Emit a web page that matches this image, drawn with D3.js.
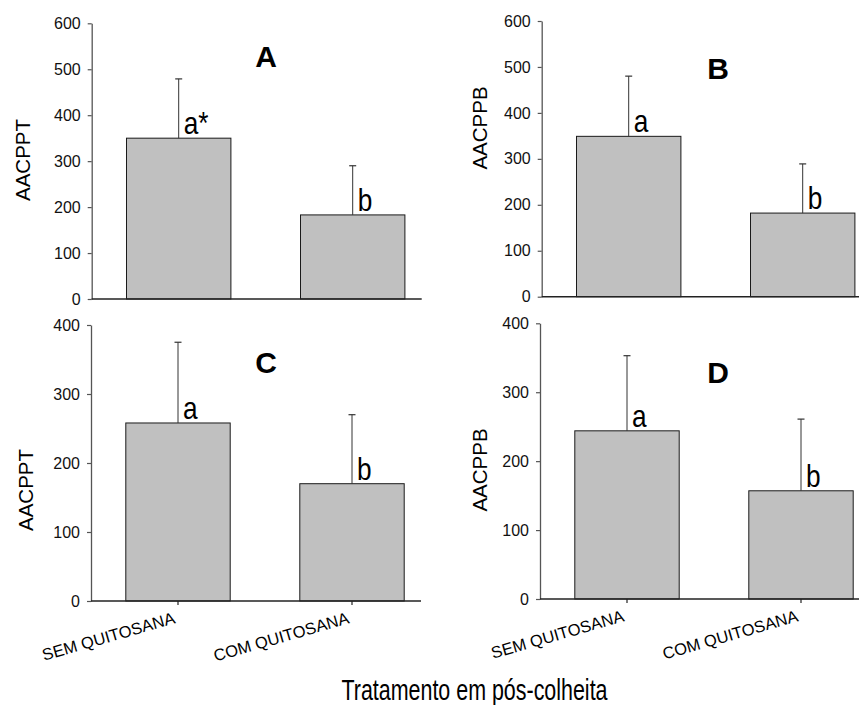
<!DOCTYPE html>
<html>
<head>
<meta charset="utf-8">
<script src="https://cdn.jsdelivr.net/npm/d3@7"></script>
<style>
  html, body { margin: 0; padding: 0; background: #fff; }
  svg { display: block; font-family: Arial, "Liberation Sans", Helvetica, sans-serif; }
</style>
</head>
<body>
<svg id="chart" width="859" height="705"></svg>
<script>
// Treatments on the x axis
const categories = ["SEM QUITOSANA", "COM QUITOSANA"];

// Panel identifiers and y-axis titles
const panelLetters = ["A", "B", "C", "D"];
const yTitles = ["AACPPT", "AACPPB", "AACPPT", "AACPPB"];

// Means and error-bar half lengths per panel
const meansA = [350, 183];
const errorsA = [129, 107];
const meansB = [349, 182];
const errorsB = [131, 107];
const meansC = [258, 170];
const errorsC = [117, 100];
const meansD = [244, 157];
const errorsD = [109, 104];

// Significance letters above the bars
const groupsA = ["a*", "b"];
const groupsB = ["a", "b"];
const groupsC = ["a", "b"];
const groupsD = ["a", "b"];

// Y tick values (top row goes to 600, bottom row to 400)
const ticksTop = [0, 100, 200, 300, 400, 500, 600];
const ticksBottom = [0, 100, 200, 300, 400];

const xTitle = "Tratamento em pós-colheita";

const panels = [
  { letter: panelLetters[0], yTitle: yTitles[0], means: meansA, errors: errorsA, groups: groupsA, ticks: ticksTop,
    x0: 91.7, top: 23.3, bottom: 299, axisEnd: 421.7, showX: false,
    letterPos: [266, 67], titlePos: [30, 160] },
  { letter: panelLetters[1], yTitle: yTitles[1], means: meansB, errors: errorsB, groups: groupsB, ticks: ticksTop,
    x0: 541.7, top: 21, bottom: 296.7, axisEnd: 870, showX: false,
    letterPos: [718, 79], titlePos: [487, 128] },
  { letter: panelLetters[2], yTitle: yTitles[2], means: meansC, errors: errorsC, groups: groupsC, ticks: ticksBottom,
    x0: 91, top: 325, bottom: 601, axisEnd: 421, showX: true,
    letterPos: [266, 373], titlePos: [33, 490] },
  { letter: panelLetters[3], yTitle: yTitles[3], means: meansD, errors: errorsD, groups: groupsD, ticks: ticksBottom,
    x0: 540, top: 323.3, bottom: 599, axisEnd: 870, showX: true,
    letterPos: [718, 383], titlePos: [487, 470] }
];

const svg = d3.select("#chart");

panels.forEach(p => {
  const g = svg.append("g");
  const maxTick = d3.max(p.ticks);

  const x = d3.scaleBand()
    .domain(categories)
    .range([p.x0, p.x0 + 348])
    .paddingInner(0.4)
    .paddingOuter(0.2);

  const y = d3.scaleLinear()
    .domain([0, maxTick])
    .range([p.bottom, p.top]);

  // Y axis
  const yAxis = g.append("g")
    .attr("transform", `translate(${p.x0},0)`)
    .call(d3.axisLeft(y).tickValues(p.ticks).tickSize(4).tickPadding(7).tickSizeOuter(0));
  yAxis.select(".domain").attr("stroke", "#555").attr("stroke-width", 1.3);
  yAxis.selectAll(".tick line").attr("stroke", "#555").attr("stroke-width", 1.2);
  yAxis.selectAll(".tick text")
    .attr("font-size", 16)
    .attr("fill", "#111")
    .style("font-family", "Arial, 'Liberation Sans', sans-serif");

  // Bars
  g.selectAll("rect.bar")
    .data(categories)
    .join("rect")
    .attr("class", "bar")
    .attr("x", d => x(d))
    .attr("width", x.bandwidth())
    .attr("y", (d, i) => y(p.means[i]))
    .attr("height", (d, i) => y(0) - y(p.means[i]))
    .attr("fill", "#c0c0c0")
    .attr("stroke", "#1a1a1a")
    .attr("stroke-width", 1);

  // Error bars (upper only)
  categories.forEach((c, i) => {
    const cx = x(c) + x.bandwidth() / 2;
    const yTopErr = y(p.means[i] + p.errors[i]);
    g.append("line")
      .attr("x1", cx).attr("x2", cx)
      .attr("y1", y(p.means[i])).attr("y2", yTopErr)
      .attr("stroke", "#333").attr("stroke-width", 1);
    g.append("line")
      .attr("x1", cx - 3.5).attr("x2", cx + 3.5)
      .attr("y1", yTopErr).attr("y2", yTopErr)
      .attr("stroke", "#333").attr("stroke-width", 1.2);

    // Group letter
    const lx = cx + 5;
    const ly = y(p.means[i]) - 4;
    g.append("text")
      .attr("transform", `translate(${lx},${ly}) scale(0.82,1)`)
      .attr("font-size", 32)
      .attr("fill", "#000")
      .text(p.groups[i]);
  });

  // X axis line
  g.append("line")
    .attr("x1", p.x0).attr("x2", p.axisEnd)
    .attr("y1", y(0)).attr("y2", y(0))
    .attr("stroke", "#222").attr("stroke-width", 1.4);

  if (p.showX) {
    categories.forEach(c => {
      const cx = x(c) + x.bandwidth() / 2;
      g.append("line")
        .attr("x1", cx).attr("x2", cx)
        .attr("y1", y(0)).attr("y2", y(0) + 4)
        .attr("stroke", "#222").attr("stroke-width", 1.2);
      g.append("text")
        .attr("transform", `translate(${cx - 2},${y(0) + 22}) rotate(-16)`)
        .attr("text-anchor", "end")
        .attr("font-size", 16.5)
        .attr("fill", "#000")
        .text(c);
    });
  }

  // Panel letter
  g.append("text")
    .attr("x", p.letterPos[0])
    .attr("y", p.letterPos[1])
    .attr("text-anchor", "middle")
    .attr("font-size", 30)
    .attr("font-weight", "bold")
    .attr("fill", "#000")
    .text(p.letter);

  // Y axis title
  g.append("text")
    .attr("transform", `translate(${p.titlePos[0]},${p.titlePos[1]}) rotate(-90)`)
    .attr("text-anchor", "middle")
    .attr("font-size", 20.5)
    .attr("fill", "#000")
    .text(p.yTitle);
});

// Shared x-axis title
svg.append("text")
  .attr("x", 341.5)
  .attr("y", 700)
  .attr("font-size", 29)
  .attr("textLength", 266)
  .attr("lengthAdjust", "spacingAndGlyphs")
  .attr("fill", "#000")
  .text(xTitle);
</script>
</body>
</html>
